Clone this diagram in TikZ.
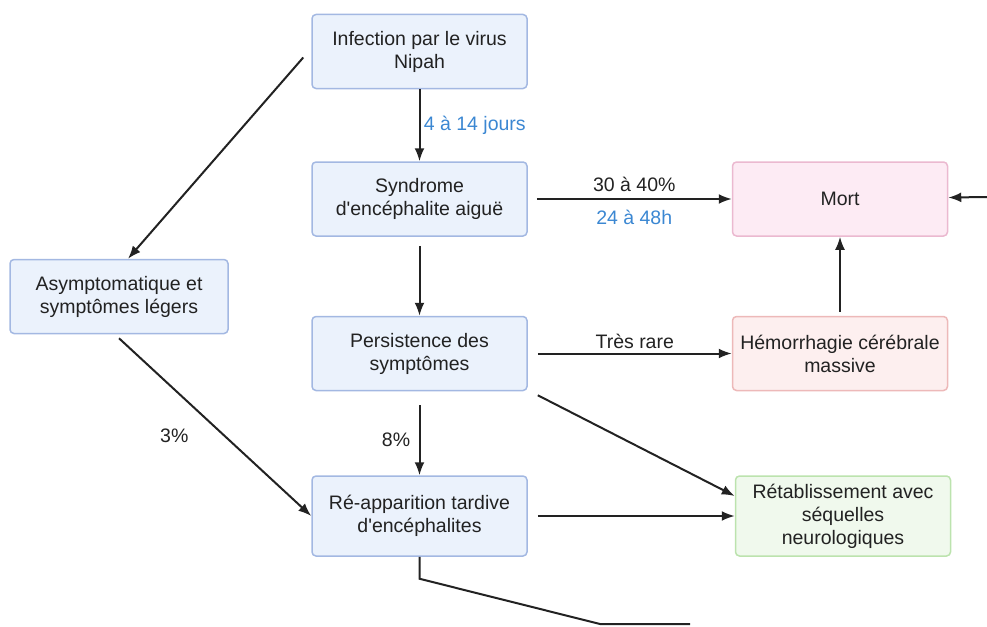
\documentclass[tikz,border=0pt]{standalone}
\usepackage{fontspec}
\setmainfont{Liberation Sans}[Ligatures=TeXOff]
\usetikzlibrary{positioning,arrows.meta}
\definecolor{bluefill}{HTML}{EBF2FC}
\definecolor{blueline}{HTML}{A3B8E2}
\definecolor{pinkfill}{HTML}{FDEBF4}
\definecolor{pinkline}{HTML}{EBB9D0}
\definecolor{redfill}{HTML}{FDEFEF}
\definecolor{redline}{HTML}{EDB9B9}
\definecolor{greenfill}{HTML}{F0F9ED}
\definecolor{greenline}{HTML}{BCE3AE}
\definecolor{delay}{HTML}{3B87D2}
\definecolor{ink}{HTML}{222222}
\tikzset{
  stage box/.style={
    fill=#1fill,
    draw=#1line,
    line width=1.5pt,
    rounded corners=4pt,
    minimum width=215pt,
    minimum height=74pt,
    align=center,
    text=ink,
    font=\fontsize{19.5}{23}\selectfont,
  },
  link/.style={
    draw=ink,
    line width=2pt,
    -{Latex[length=13pt,width=10pt]},
  },
  note/.style={
    text=ink,
    font=\fontsize{19.5}{23}\selectfont,
  }
}

\begin{document}
\begin{tikzpicture}[x=1pt, y=-1pt]
        \useasboundingbox (0,0) rectangle (987,626);

        \node [stage box=blue] (infection) at (419.5,51.5) {Infection par le virus\\Nipah};
        \node [stage box=blue, below=72pt of infection] (syndrome) {Syndrome\\d'encéphalite aiguë};
        \node [stage box=blue, below=79pt of syndrome] (persist) {Persistence des\\symptômes};
        \node [stage box=blue, minimum height=80pt, below=84pt of persist] (reapp) {Ré-apparition tardive\\d'encéphalites};
        \node [stage box=blue, minimum width=218pt] (asympto) at (119,296.5) {Asymptomatique et\\symptômes légers};
        \node [stage box=pink, right=204pt of syndrome] (mort) {Mort};
        \node [stage box=red, right=204pt of persist] (hemo) {Hémorrhagie cérébrale\\massive};
        \node [stage box=green, minimum height=80pt, right=207pt of reapp] (retab) {Rétablissement avec\\séquelles\\neurologiques};

        \coordinate (rightedge) at (987,197);
        \coordinate (exit) at (690,624);

        \draw [link] (infection) -- node [note, right, text=delay] {4 à 14 jours} (syndrome);
        \draw [link] ([shift={(-8,6)}]infection.west) -- ([xshift=9pt]asympto.north);
        \draw [link] ([xshift=9pt]syndrome.east) -- node [note, above=3pt] {30 à 40\%} node [note, below=7pt, text=delay] {24 à 48h} (mort);
        \draw [link] ([yshift=-9pt]syndrome.south) -- (persist);
        \draw [link] ([xshift=10pt]persist.east) -- node [note, above] {Très rare} (hemo);
        \draw [link] ([yshift=4pt]hemo.north) -- (hemo.north |- mort.south);
        \draw [link] (rightedge) -- (mort);
        \draw [link] ([yshift=-14pt]persist.south) -- node [note, left=5pt] {8\%} (reapp);
        \draw [link] ([shift={(10,4)}]persist.south east) -- ([yshift=20pt]retab.west);
        \draw [link] ([xshift=10pt]reapp.east) -- (retab);
        \draw [link] ([yshift=-4pt]asympto.south) -- node [note, pos=0.55, left=32pt] {3\%} (reapp.west);
        \draw [draw=ink, line width=2pt] (reapp.south) -- ++(0,22) -- ([xshift=-90pt]exit) -- (exit);
      \end{tikzpicture}
\end{document}
